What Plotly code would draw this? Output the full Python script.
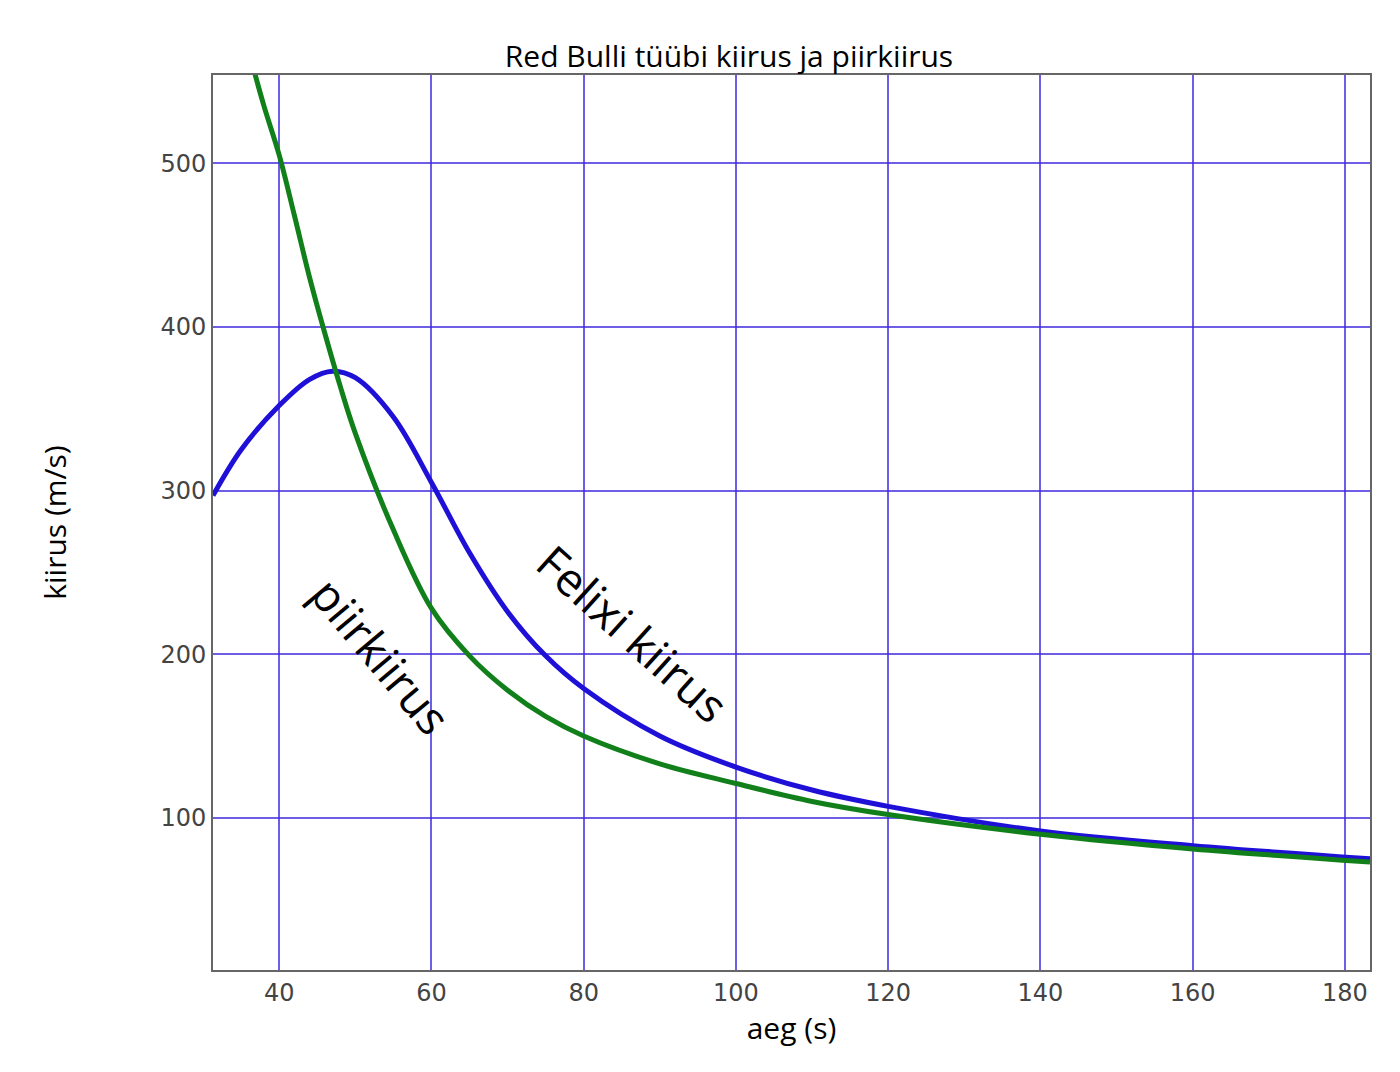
import plotly.graph_objects as go

green_x = [36.5, 38, 40, 42, 44, 46, 48, 50, 55, 60, 65, 70, 75, 80, 90, 100, 110, 120, 140, 160, 183.3]
green_y = [560, 535, 505, 468, 430, 396, 364, 335, 276, 228, 199, 178, 162, 150, 133, 121, 110, 102, 90, 81, 73]
blue_x = [31.3, 35, 40, 44, 47, 50, 55, 60, 65, 70, 75, 80, 90, 100, 110, 120, 140, 160, 183.3]
blue_y = [297, 325, 352, 368, 373, 369, 345, 305, 262, 226, 199, 179, 150, 131, 117, 107, 92, 83, 75]
x_ticks = [40, 60, 80, 100, 120, 140, 160, 180]
y_ticks = [100, 200, 300, 400, 500]

fig = go.Figure()
fig.add_trace(go.Scatter(x=blue_x, y=blue_y, mode="lines", line=dict(color="#1f10d8", width=5, shape="spline", smoothing=1.0)))
fig.add_trace(go.Scatter(x=green_x, y=green_y, mode="lines", line=dict(color="#11801a", width=5, shape="spline", smoothing=1.0)))

grid = "rgba(60,40,220,0.75)"
fig.update_layout(
    width=1400, height=1072, showlegend=False,
    plot_bgcolor="white", paper_bgcolor="white",
    margin=dict(l=205, r=38, t=67, b=110),
    title=dict(text="Red Bulli tüübi kiirus ja piirkiirus", x=0.515, xanchor="center", y=0.965,
               font=dict(family="Open Sans", size=30, color="black")),
    font=dict(family="DejaVu Sans", size=24, color="#444"),
)
fig.update_xaxes(range=[31.3, 183.3], tickvals=x_ticks, gridcolor=grid, gridwidth=1.5,
                 showline=True, linecolor="#666", linewidth=2, mirror=True, ticks="", zeroline=False,
                 title=dict(text="aeg (s)", font=dict(family="Open Sans", size=30, color="black"), standoff=10))
fig.update_yaxes(range=[7, 554], tickvals=y_ticks, gridcolor=grid, gridwidth=1.5,
                 showline=True, linecolor="#666", linewidth=2, mirror=True, ticks="", zeroline=False,
                 title=dict(text="kiirus (m/s)", font=dict(family="Open Sans", size=30, color="black"), standoff=85))
fig.add_annotation(x=86.5, y=213, text="Felixi kiirus", showarrow=False, textangle=42,
                   font=dict(family="Open Sans", size=46, color="black"))
fig.add_annotation(x=53.5, y=199, text="piirkiirus", showarrow=False, textangle=50,
                   font=dict(family="Open Sans", size=46, color="black"))
fig.write_html("out.html")
